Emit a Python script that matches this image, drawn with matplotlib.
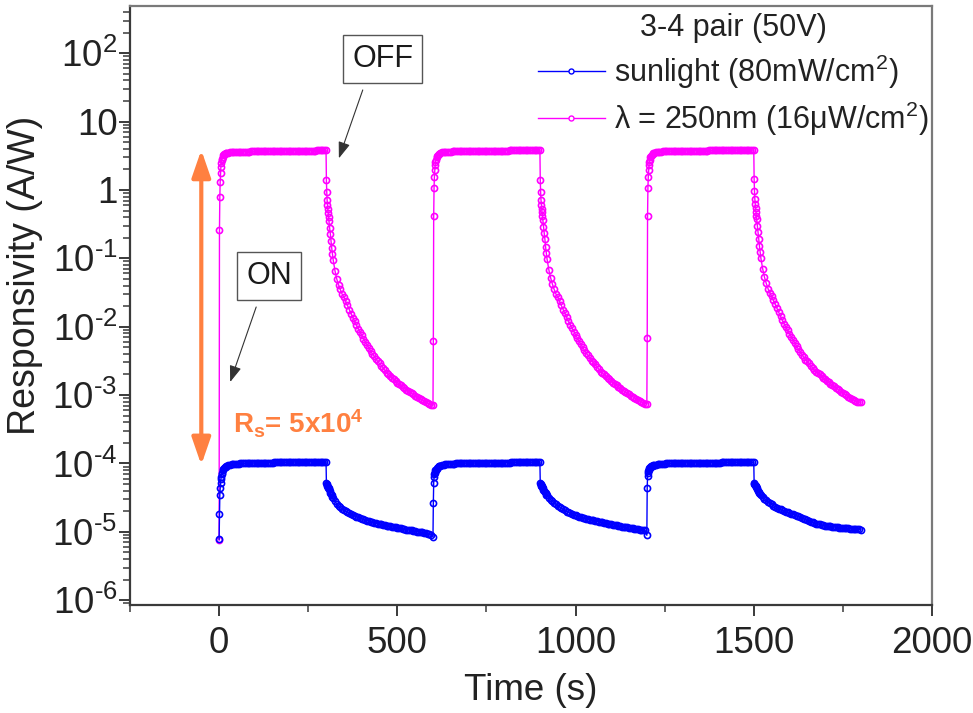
import matplotlib
matplotlib.use("Agg")
import matplotlib.pyplot as plt
from matplotlib.ticker import MultipleLocator, LogLocator, FixedLocator, FixedFormatter, NullFormatter

plt.rcParams['font.family'] = ['Liberation Sans', 'DejaVu Sans']
plt.rcParams['mathtext.fontset'] = 'custom'
plt.rcParams['mathtext.rm'] = 'Liberation Sans'
plt.rcParams['mathtext.it'] = 'Liberation Sans:italic'
plt.rcParams['mathtext.bf'] = 'Liberation Sans:bold'

# ---------------- data ----------------
time_s = [
    # light on 0-300 s
    0, 1, 2, 3, 4, 5, 6, 7, 8, 10, 12, 14, 16, 18, 20, 25, 30, 35, 40, 45, 50, 55, 60, 65, 70, 75,
    80, 85, 90, 95, 100, 105, 110, 115, 120, 125, 130, 135, 140, 145, 150, 155, 160, 165, 170, 175,
    180, 185, 190, 195, 200, 205, 210, 215, 220, 225, 230, 235, 240, 245, 250, 255, 260, 265, 270,
    275, 280, 285, 290, 295,
    # light off 300-600 s
    300, 301, 302, 303, 304, 305, 306, 307, 308, 310, 312, 314, 316, 318, 320, 325, 330, 335, 340, 345,
    350, 355, 360, 365, 370, 375, 380, 385, 390, 395, 400, 405, 410, 415, 420, 425, 430, 435, 440, 445,
    450, 455, 460, 465, 470, 475, 480, 485, 490, 495, 500, 505, 510, 515, 520, 525, 530, 535, 540, 545,
    550, 555, 560, 565, 570, 575, 580, 585, 590, 595,
    # light on 600-900 s
    600, 601, 602, 603, 604, 605, 606, 607, 608, 610, 612, 614, 616, 618, 620, 625, 630, 635, 640, 645,
    650, 655, 660, 665, 670, 675, 680, 685, 690, 695, 700, 705, 710, 715, 720, 725, 730, 735, 740, 745,
    750, 755, 760, 765, 770, 775, 780, 785, 790, 795, 800, 805, 810, 815, 820, 825, 830, 835, 840, 845,
    850, 855, 860, 865, 870, 875, 880, 885, 890, 895,
    # light off 900-1200 s
    900, 901, 902, 903, 904, 905, 906, 907, 908, 910, 912, 914, 916, 918, 920, 925, 930, 935, 940, 945,
    950, 955, 960, 965, 970, 975, 980, 985, 990, 995, 1000, 1005, 1010, 1015, 1020, 1025, 1030, 1035,
    1040, 1045, 1050, 1055, 1060, 1065, 1070, 1075, 1080, 1085, 1090, 1095, 1100, 1105, 1110, 1115,
    1120, 1125, 1130, 1135, 1140, 1145, 1150, 1155, 1160, 1165, 1170, 1175, 1180, 1185, 1190, 1195,
    # light on 1200-1500 s
    1200, 1201, 1202, 1203, 1204, 1205, 1206, 1207, 1208, 1210, 1212, 1214, 1216, 1218, 1220, 1225,
    1230, 1235, 1240, 1245, 1250, 1255, 1260, 1265, 1270, 1275, 1280, 1285, 1290, 1295, 1300, 1305,
    1310, 1315, 1320, 1325, 1330, 1335, 1340, 1345, 1350, 1355, 1360, 1365, 1370, 1375, 1380, 1385,
    1390, 1395, 1400, 1405, 1410, 1415, 1420, 1425, 1430, 1435, 1440, 1445, 1450, 1455, 1460, 1465,
    1470, 1475, 1480, 1485, 1490, 1495,
    # light off 1500-1800 s
    1500, 1501, 1502, 1503, 1504, 1505, 1506, 1507, 1508, 1510, 1512, 1514, 1516, 1518, 1520, 1525,
    1530, 1535, 1540, 1545, 1550, 1555, 1560, 1565, 1570, 1575, 1580, 1585, 1590, 1595, 1600, 1605,
    1610, 1615, 1620, 1625, 1630, 1635, 1640, 1645, 1650, 1655, 1660, 1665, 1670, 1675, 1680, 1685,
    1690, 1695, 1700, 1705, 1710, 1715, 1720, 1725, 1730, 1735, 1740, 1745, 1750, 1755, 1760, 1765,
    1770, 1775, 1780, 1785, 1790, 1795, 1800,
]

# sunlight (80 mW/cm2), responsivity in A/W
sunlight_resp = [
    # on 0-300
    7.8e-6, 1.8e-5, 3.5e-5, 4.3e-5, 5.2e-5, 5.9e-5, 6.4e-5, 6.9e-5, 7.3e-5, 7.9e-5, 8.3e-5, 8.6e-5,
    8.8e-5, 9.0e-5, 9.2e-5, 9.4e-5, 9.6e-5, 9.7e-5, 9.8e-5, 9.8e-5, 9.9e-5, 9.9e-5,
    1.0e-4, 1.0e-4, 1.0e-4, 1.0e-4, 1.01e-4, 1.01e-4, 1.01e-4, 1.01e-4,
    1.02e-4, 1.02e-4, 1.02e-4, 1.02e-4, 1.02e-4, 1.03e-4, 1.03e-4, 1.03e-4, 1.03e-4, 1.03e-4, 1.03e-4,
    1.04e-4, 1.04e-4, 1.04e-4, 1.04e-4, 1.04e-4, 1.04e-4, 1.04e-4, 1.04e-4,
    1.05e-4, 1.05e-4, 1.05e-4, 1.05e-4, 1.05e-4, 1.05e-4, 1.05e-4, 1.05e-4, 1.05e-4, 1.05e-4,
    1.06e-4, 1.06e-4, 1.06e-4, 1.06e-4, 1.06e-4, 1.06e-4, 1.06e-4, 1.06e-4, 1.06e-4, 1.06e-4, 1.06e-4,
    # off 300-600
    1.06e-4, 5.2e-5, 5.0e-5, 4.8e-5, 4.6e-5, 4.5e-5, 4.4e-5, 4.3e-5, 4.2e-5, 3.9e-5, 3.7e-5, 3.55e-5,
    3.4e-5, 3.25e-5, 3.1e-5, 2.8e-5, 2.55e-5, 2.4e-5, 2.27e-5, 2.17e-5, 2.08e-5, 2.0e-5, 1.93e-5,
    1.87e-5, 1.81e-5, 1.76e-5, 1.71e-5, 1.67e-5, 1.63e-5, 1.59e-5, 1.55e-5, 1.52e-5, 1.49e-5, 1.46e-5,
    1.43e-5, 1.4e-5, 1.38e-5, 1.36e-5, 1.34e-5, 1.32e-5, 1.3e-5, 1.28e-5, 1.26e-5, 1.24e-5, 1.23e-5,
    1.21e-5, 1.2e-5, 1.18e-5, 1.17e-5, 1.16e-5, 1.15e-5, 1.13e-5, 1.12e-5, 1.11e-5, 1.1e-5, 1.08e-5,
    1.07e-5, 1.06e-5, 1.05e-5, 1.04e-5, 1.02e-5, 1.01e-5, 1.0e-5, 9.9e-6, 9.8e-6, 9.6e-6, 9.5e-6,
    9.4e-6, 9.3e-6, 9.1e-6,
    # on 600-900
    8.5e-6, 2.6e-5, 5.2e-5, 6.3e-5, 6.9e-5, 7.3e-5, 7.6e-5, 7.9e-5, 8.1e-5, 8.4e-5, 8.7e-5, 8.9e-5,
    9.1e-5, 9.2e-5, 9.3e-5, 9.5e-5, 9.6e-5, 9.7e-5, 9.8e-5, 9.8e-5, 9.9e-5, 9.9e-5, 9.9e-5,
    1.0e-4, 1.0e-4, 1.0e-4, 1.0e-4, 1.0e-4, 1.01e-4, 1.01e-4, 1.01e-4, 1.01e-4, 1.01e-4, 1.01e-4,
    1.02e-4, 1.02e-4, 1.02e-4, 1.02e-4, 1.02e-4, 1.02e-4, 1.02e-4, 1.02e-4,
    1.03e-4, 1.03e-4, 1.03e-4, 1.03e-4, 1.03e-4, 1.03e-4, 1.03e-4, 1.03e-4, 1.03e-4, 1.03e-4, 1.03e-4,
    1.03e-4, 1.04e-4, 1.04e-4, 1.04e-4, 1.04e-4, 1.04e-4, 1.04e-4, 1.04e-4, 1.04e-4, 1.04e-4, 1.04e-4,
    1.04e-4, 1.04e-4, 1.04e-4, 1.04e-4, 1.04e-4, 1.04e-4,
    # off 900-1200
    1.04e-4, 5.1e-5, 5.0e-5, 4.9e-5, 4.75e-5, 4.65e-5, 4.55e-5, 4.45e-5, 4.35e-5, 4.15e-5, 3.95e-5,
    3.8e-5, 3.65e-5, 3.5e-5, 3.4e-5, 3.15e-5, 2.95e-5, 2.8e-5, 2.65e-5, 2.52e-5, 2.4e-5, 2.3e-5, 2.2e-5,
    2.12e-5, 2.05e-5, 1.98e-5, 1.92e-5, 1.87e-5, 1.82e-5, 1.78e-5, 1.74e-5, 1.7e-5, 1.67e-5, 1.64e-5,
    1.61e-5, 1.58e-5, 1.56e-5, 1.53e-5, 1.51e-5, 1.49e-5, 1.47e-5, 1.45e-5, 1.43e-5, 1.41e-5, 1.39e-5,
    1.37e-5, 1.35e-5, 1.33e-5, 1.31e-5, 1.3e-5, 1.28e-5, 1.27e-5, 1.25e-5, 1.24e-5, 1.22e-5, 1.21e-5,
    1.19e-5, 1.18e-5, 1.17e-5, 1.16e-5, 1.14e-5, 1.13e-5, 1.12e-5, 1.11e-5, 1.1e-5, 1.09e-5, 1.08e-5,
    1.07e-5, 1.06e-5, 1.05e-5,
    # on 1200-1500
    8.9e-6, 4.4e-5, 6.5e-5, 7.2e-5, 7.7e-5, 8.0e-5, 8.3e-5, 8.5e-5, 8.7e-5, 8.9e-5, 9.1e-5, 9.2e-5,
    9.3e-5, 9.4e-5, 9.5e-5, 9.6e-5, 9.7e-5, 9.8e-5, 9.8e-5, 9.9e-5, 9.9e-5,
    1.0e-4, 1.0e-4, 1.0e-4, 1.0e-4, 1.0e-4, 1.01e-4, 1.01e-4, 1.01e-4, 1.01e-4, 1.01e-4, 1.01e-4,
    1.02e-4, 1.02e-4, 1.02e-4, 1.02e-4, 1.02e-4, 1.02e-4, 1.02e-4, 1.02e-4,
    1.03e-4, 1.03e-4, 1.03e-4, 1.03e-4, 1.03e-4, 1.03e-4, 1.03e-4, 1.03e-4, 1.03e-4, 1.03e-4, 1.03e-4,
    1.03e-4, 1.04e-4, 1.04e-4, 1.04e-4, 1.04e-4, 1.04e-4, 1.04e-4, 1.04e-4, 1.04e-4, 1.04e-4, 1.04e-4,
    1.04e-4, 1.04e-4, 1.04e-4, 1.04e-4, 1.04e-4, 1.04e-4, 1.04e-4, 1.04e-4,
    # off 1500-1800
    1.04e-4, 5.1e-5, 5.0e-5, 4.9e-5, 4.8e-5, 4.7e-5, 4.6e-5, 4.5e-5, 4.4e-5, 4.2e-5, 4.0e-5, 3.85e-5,
    3.7e-5, 3.6e-5, 3.5e-5, 3.25e-5, 3.05e-5, 2.9e-5, 2.75e-5, 2.63e-5, 2.52e-5, 2.42e-5, 2.33e-5,
    2.25e-5, 2.18e-5, 2.12e-5, 2.06e-5, 2.01e-5, 1.96e-5, 1.92e-5, 1.88e-5, 1.84e-5, 1.8e-5, 1.76e-5,
    1.72e-5, 1.68e-5, 1.64e-5, 1.6e-5, 1.56e-5, 1.52e-5, 1.48e-5, 1.44e-5, 1.41e-5, 1.38e-5, 1.35e-5,
    1.32e-5, 1.3e-5, 1.28e-5, 1.26e-5, 1.24e-5, 1.23e-5, 1.22e-5, 1.21e-5, 1.2e-5, 1.19e-5, 1.18e-5,
    1.17e-5, 1.16e-5, 1.15e-5, 1.14e-5, 1.14e-5, 1.13e-5, 1.12e-5, 1.12e-5, 1.11e-5, 1.11e-5, 1.1e-5,
    1.1e-5, 1.09e-5, 1.09e-5, 1.08e-5,
]

# lambda = 250 nm (16 uW/cm2), responsivity in A/W
uv_resp = [
    # on 0-300
    7.5e-6, 0.26, 0.79, 1.3, 1.76, 2.2, 2.5, 2.7, 2.85, 3.05, 3.2, 3.3, 3.37, 3.42, 3.46, 3.52, 3.55,
    3.57, 3.59, 3.6, 3.61, 3.61, 3.62, 3.62, 3.63, 3.63, 3.64, 3.64, 3.65, 3.65, 3.66, 3.66, 3.67, 3.67,
    3.68, 3.68, 3.68, 3.69, 3.69, 3.7, 3.7, 3.7, 3.71, 3.71, 3.72, 3.72, 3.72, 3.73, 3.73, 3.73, 3.74,
    3.74, 3.74, 3.75, 3.75, 3.75, 3.75, 3.76, 3.76, 3.76, 3.76, 3.77, 3.77, 3.77, 3.77, 3.78, 3.78,
    3.78, 3.78, 3.78,
    # off 300-600
    3.78, 1.38, 0.93, 0.71, 0.6, 0.52, 0.46, 0.4, 0.35, 0.28, 0.23, 0.18, 0.14, 0.115, 0.095, 0.066,
    0.05, 0.041, 0.035, 0.030, 0.027, 0.0235, 0.0205, 0.0178, 0.0155, 0.0136, 0.012, 0.0106, 0.0094,
    0.0084, 0.0075, 0.0067, 0.006, 0.0054, 0.0049, 0.0044, 0.004, 0.0037, 0.0034, 0.0031, 0.0029,
    0.0027, 0.0025, 0.0023, 0.0021, 0.002, 0.0019, 0.0018, 0.0017, 0.0016, 0.00152, 0.00145, 0.00138,
    0.00132, 0.00126, 0.0012, 0.00115, 0.0011, 0.00106, 0.00102, 9.8e-4, 9.4e-4, 9.1e-4, 8.8e-4,
    8.5e-4, 8.2e-4, 7.9e-4, 7.6e-4, 7.4e-4, 7.2e-4,
    # on 600-900
    7.1e-4, 0.0062, 0.41, 1.05, 1.55, 1.95, 2.3, 2.55, 2.75, 3.0, 3.15, 3.27, 3.35, 3.41, 3.46, 3.53,
    3.57, 3.6, 3.62, 3.63, 3.64, 3.65, 3.65, 3.66, 3.66, 3.67, 3.67, 3.68, 3.68, 3.69, 3.69, 3.7, 3.7,
    3.7, 3.71, 3.71, 3.72, 3.72, 3.72, 3.73, 3.73, 3.74, 3.74, 3.74, 3.75, 3.75, 3.75, 3.76, 3.76,
    3.76, 3.77, 3.77, 3.77, 3.78, 3.78, 3.78, 3.78, 3.79, 3.79, 3.79, 3.79, 3.8, 3.8, 3.8, 3.8, 3.8,
    3.81, 3.81, 3.81, 3.81,
    # off 900-1200
    3.81, 1.39, 0.94, 0.72, 0.61, 0.53, 0.47, 0.41, 0.36, 0.29, 0.235, 0.19, 0.145, 0.118, 0.098,
    0.068, 0.052, 0.042, 0.035, 0.030, 0.027, 0.0235, 0.0205, 0.0178, 0.0156, 0.0137, 0.0121, 0.0107,
    0.0095, 0.0085, 0.0076, 0.0068, 0.0061, 0.0055, 0.005, 0.0045, 0.0041, 0.0038, 0.0035, 0.0032,
    0.003, 0.0028, 0.0026, 0.0024, 0.0022, 0.0021, 0.002, 0.0019, 0.0018, 0.0017, 0.0016, 0.00152,
    0.00145, 0.00138, 0.00132, 0.00126, 0.0012, 0.00115, 0.0011, 0.00106, 0.00102, 9.8e-4, 9.5e-4,
    9.2e-4, 8.9e-4, 8.6e-4, 8.3e-4, 8.0e-4, 7.7e-4, 7.5e-4,
    # on 1200-1500
    7.4e-4, 0.0068, 0.41, 1.07, 1.55, 1.95, 2.3, 2.55, 2.75, 3.0, 3.17, 3.29, 3.37, 3.43, 3.48, 3.55,
    3.59, 3.62, 3.64, 3.65, 3.66, 3.67, 3.67, 3.68, 3.68, 3.69, 3.69, 3.7, 3.7, 3.71, 3.71, 3.72, 3.72,
    3.73, 3.73, 3.74, 3.74, 3.75, 3.75, 3.76, 3.76, 3.76, 3.77, 3.77, 3.77, 3.78, 3.78, 3.78, 3.79,
    3.79, 3.79, 3.8, 3.8, 3.8, 3.8, 3.81, 3.81, 3.81, 3.81, 3.82, 3.82, 3.82, 3.82, 3.82, 3.83, 3.83,
    3.83, 3.83, 3.83, 3.83,
    # off 1500-1800
    3.83, 1.45, 0.95, 0.73, 0.62, 0.54, 0.48, 0.42, 0.37, 0.3, 0.24, 0.19, 0.15, 0.122, 0.1, 0.07,
    0.053, 0.043, 0.036, 0.031, 0.028, 0.0245, 0.0213, 0.0185, 0.0162, 0.0142, 0.0125, 0.011, 0.0098,
    0.0088, 0.0079, 0.0071, 0.0064, 0.0058, 0.0052, 0.0047, 0.0043, 0.0039, 0.0036, 0.0033, 0.0031,
    0.0029, 0.0027, 0.0025, 0.0023, 0.0022, 0.0021, 0.002, 0.0019, 0.0018, 0.0017, 0.0016, 0.00153,
    0.00146, 0.0014, 0.00134, 0.00128, 0.00122, 0.00117, 0.00112, 0.00107, 0.00103, 9.9e-4, 9.5e-4,
    9.1e-4, 8.8e-4, 8.5e-4, 8.2e-4, 8.0e-4, 7.9e-4, 7.8e-4,
]

series_labels = ['sunlight (80mW/cm$^2$)', '\u03bb = 250nm (16\u03bcW/cm$^2$)']
legend_title = '3-4 pair (50V)'

ytick_values = [1e-6, 1e-5, 1e-4, 1e-3, 1e-2, 1e-1, 1, 10, 100]
ytick_labels = [r'10$^{\text{-}6}$', r'10$^{\text{-}5}$', r'10$^{\text{-}4}$', r'10$^{\text{-}3}$',
                r'10$^{\text{-}2}$', r'10$^{\text{-}1}$', '1', '10', r'10$^{2}$']

# annotation anchors (data coordinates)
off_label_pos = (459, 83)
off_arrow_tail = (403, 29)
off_arrow_head = (336, 2.9)
on_label_pos = (140, 0.055)
on_arrow_tail = (104, 0.0194)
on_arrow_head = (31, 1.55e-3)
ratio_arrow_x = -50
ratio_arrow_top = 3.85
ratio_arrow_bottom = 9.5e-5
ratio_text_pos = (39, 2.78e-4)
ratio_text = r'R$_\mathbf{s}$= 5x10$^\mathbf{4}$'

assert len(time_s) == len(sunlight_resp) == len(uv_resp), (len(time_s), len(sunlight_resp), len(uv_resp))

# ---------------- figure ----------------
W, H = 973, 713
fig = plt.figure(figsize=(W / 100, H / 100), dpi=100)
ax = fig.add_axes([130 / W, 1 - 605 / H, (932 - 130) / W, (605 - 6) / H])

blue = '#0000FF'
magenta = '#FF00FF'
orange = '#FF8040'

l_sun, = ax.plot(time_s, sunlight_resp, color=blue, lw=1.0, marker='o', ms=4.4,
                 mfc='none', mec=blue, mew=1.2, zorder=3, label=series_labels[0])
l_uv, = ax.plot(time_s, uv_resp, color=magenta, lw=1.0, marker='o', ms=4.4,
                mfc='none', mec=magenta, mew=1.2, zorder=2, label=series_labels[1])

ax.set_yscale('log')
ax.set_xlim(-250, 2000)
ax.set_ylim(8.5e-7, 4.9e2)

ax.xaxis.set_major_locator(MultipleLocator(500))
ax.xaxis.set_minor_locator(MultipleLocator(250))
ax.yaxis.set_major_locator(FixedLocator(ytick_values))
ax.yaxis.set_major_formatter(FixedFormatter(ytick_labels))
ax.yaxis.set_minor_locator(LogLocator(base=10, subs=[2, 3, 4, 5, 6, 7, 8, 9], numticks=30))
ax.yaxis.set_minor_formatter(NullFormatter())

spine_dark = '#3a3a3a'
spine_light = '#7a7a7a'
for side in ['left', 'bottom']:
    ax.spines[side].set_color(spine_dark)
    ax.spines[side].set_linewidth(1.6)
for side in ['top', 'right']:
    ax.spines[side].set_color(spine_light)
    ax.spines[side].set_linewidth(1.6)

ax.tick_params(which='both', direction='out', top=False, right=False, color=spine_dark,
               labelcolor='#222222')
ax.tick_params(which='major', length=8, width=1.4, labelsize=26.5)
ax.tick_params(which='minor', length=5, width=1.1)
ax.tick_params(axis='x', which='major', pad=7)
ax.tick_params(axis='y', which='major', pad=1)

ax.set_xlabel('Time (s)', fontsize=26.5, color='#222222', labelpad=9)
ax.set_ylabel('Responsivity (A/W)', fontsize=27, color='#222222')
ax.yaxis.set_label_coords(-0.108, 0.551)

leg = ax.legend(handles=[l_sun, l_uv], title=legend_title, loc='upper right',
                bbox_to_anchor=(1.0, 0.993), frameon=False, fontsize=22, title_fontsize=22,
                handlelength=2.2, handletextpad=0.3, labelspacing=0.3, borderaxespad=0.0,
                borderpad=0.1, numpoints=1)
for t in leg.get_texts():
    t.set_color('#222222')
leg.get_title().set_color('#222222')
for h in leg.legend_handles:
    h.set_markersize(3.6)
    h.set_markeredgewidth(1.0)
    h.set_markerfacecolor('white')

box = dict(boxstyle='square,pad=0.3', fc='white', ec='#555555', lw=1.0)
ax.text(*off_label_pos, 'OFF', fontsize=22, ha='center', va='center', color='#1a1a1a', bbox=box, zorder=5)
ax.text(*on_label_pos, 'ON', fontsize=22, ha='center', va='center', color='#1a1a1a', bbox=box, zorder=5)

thin_arrow = dict(arrowstyle='-|>,head_length=0.5,head_width=0.18', color='#333333', lw=0.8,
                  mutation_scale=20, shrinkA=0, shrinkB=0)
ax.annotate('', xy=off_arrow_head, xytext=off_arrow_tail, arrowprops=thin_arrow, zorder=5)
ax.annotate('', xy=on_arrow_head, xytext=on_arrow_tail, arrowprops=thin_arrow, zorder=5)

ax.annotate('', xy=(ratio_arrow_x, ratio_arrow_top), xytext=(ratio_arrow_x, ratio_arrow_bottom),
            arrowprops=dict(arrowstyle='<|-|>,head_length=0.55,head_width=0.19', color=orange,
                            lw=3, mutation_scale=30, shrinkA=0, shrinkB=0), zorder=4)
ax.text(*ratio_text_pos, ratio_text, fontsize=20, fontweight='bold', color=orange,
        ha='left', va='baseline', zorder=5)

fig.savefig('out.png', dpi=100)
